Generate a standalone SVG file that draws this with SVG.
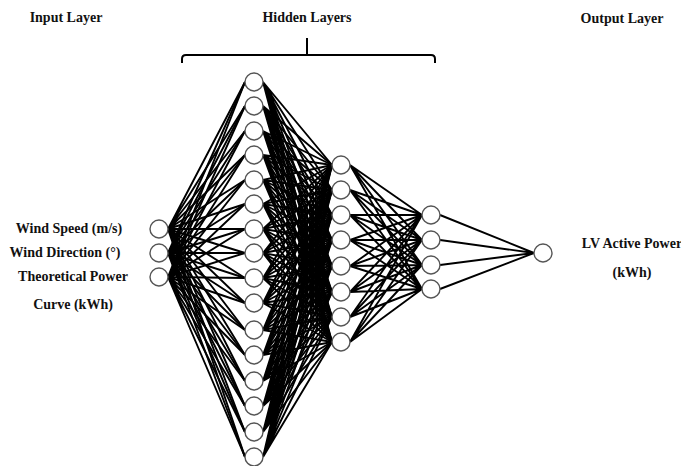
<svg xmlns="http://www.w3.org/2000/svg" width="681" height="466" viewBox="0 0 681 466">
<style>
.t{font-family:"Liberation Serif","Times New Roman",serif;font-weight:bold;font-size:14px;fill:#111;text-anchor:middle}
.n{fill:#fff;stroke:#555;stroke-width:1.4}
.e{fill:none;stroke:#000;stroke-width:1.9}
</style>
<rect width="681" height="466" fill="#fff"/>
<text class="t" x="66" y="22">Input Layer</text>
<text class="t" x="307" y="22">Hidden Layers</text>
<text class="t" x="622" y="23">Output Layer</text>
<path d="M182 63V59Q182 55 186 55H431Q435 55 435 59V63M307 38V55" fill="none" stroke="#000" stroke-width="2"/>
<text class="t" x="69" y="233">Wind Speed (m/s)</text>
<text class="t" x="65" y="257">Wind Direction (°)</text>
<text class="t" x="73" y="281">Theoretical Power</text>
<text class="t" x="73" y="309">Curve (kWh)</text>
<text class="t" x="632" y="248">LV Active Power</text>
<text class="t" x="632" y="277">(kWh)</text>
<g id="connectors" class="e">
<path d="M168 229L245 82M168 229L245 106M168 229L245 131M168 229L245 155M168 229L245 180M168 229L245 204M168 229L245 229M168 229L245 253M168 229L245 278M168 229L245 303M168 229L245 330M168 229L245 355M168 229L245 381M168 229L245 406M168 229L245 432M168 229L245 457"/>
<path d="M168 253L245 82M168 253L245 106M168 253L245 131M168 253L245 155M168 253L245 180M168 253L245 204M168 253L245 229M168 253L245 253M168 253L245 278M168 253L245 303M168 253L245 330M168 253L245 355M168 253L245 381M168 253L245 406M168 253L245 432M168 253L245 457"/>
<path d="M168 277L245 82M168 277L245 106M168 277L245 131M168 277L245 155M168 277L245 180M168 277L245 204M168 277L245 229M168 277L245 253M168 277L245 278M168 277L245 303M168 277L245 330M168 277L245 355M168 277L245 381M168 277L245 406M168 277L245 432M168 277L245 457"/>
<path d="M263 82L332 165M263 82L332 190M263 82L332 215M263 82L332 240M263 82L332 266M263 82L332 292M263 82L332 317M263 82L332 342"/>
<path d="M263 106L332 165M263 106L332 190M263 106L332 215M263 106L332 240M263 106L332 266M263 106L332 292M263 106L332 317M263 106L332 342"/>
<path d="M263 131L332 165M263 131L332 190M263 131L332 215M263 131L332 240M263 131L332 266M263 131L332 292M263 131L332 317M263 131L332 342"/>
<path d="M263 155L332 165M263 155L332 190M263 155L332 215M263 155L332 240M263 155L332 266M263 155L332 292M263 155L332 317M263 155L332 342"/>
<path d="M263 180L332 165M263 180L332 190M263 180L332 215M263 180L332 240M263 180L332 266M263 180L332 292M263 180L332 317M263 180L332 342"/>
<path d="M263 204L332 165M263 204L332 190M263 204L332 215M263 204L332 240M263 204L332 266M263 204L332 292M263 204L332 317M263 204L332 342"/>
<path d="M263 229L332 165M263 229L332 190M263 229L332 215M263 229L332 240M263 229L332 266M263 229L332 292M263 229L332 317M263 229L332 342"/>
<path d="M263 253L332 165M263 253L332 190M263 253L332 215M263 253L332 240M263 253L332 266M263 253L332 292M263 253L332 317M263 253L332 342"/>
<path d="M263 278L332 165M263 278L332 190M263 278L332 215M263 278L332 240M263 278L332 266M263 278L332 292M263 278L332 317M263 278L332 342"/>
<path d="M263 303L332 165M263 303L332 190M263 303L332 215M263 303L332 240M263 303L332 266M263 303L332 292M263 303L332 317M263 303L332 342"/>
<path d="M263 330L332 165M263 330L332 190M263 330L332 215M263 330L332 240M263 330L332 266M263 330L332 292M263 330L332 317M263 330L332 342"/>
<path d="M263 355L332 165M263 355L332 190M263 355L332 215M263 355L332 240M263 355L332 266M263 355L332 292M263 355L332 317M263 355L332 342"/>
<path d="M263 381L332 165M263 381L332 190M263 381L332 215M263 381L332 240M263 381L332 266M263 381L332 292M263 381L332 317M263 381L332 342"/>
<path d="M263 406L332 165M263 406L332 190M263 406L332 215M263 406L332 240M263 406L332 266M263 406L332 292M263 406L332 317M263 406L332 342"/>
<path d="M263 432L332 165M263 432L332 190M263 432L332 215M263 432L332 240M263 432L332 266M263 432L332 292M263 432L332 317M263 432L332 342"/>
<path d="M263 457L332 165M263 457L332 190M263 457L332 215M263 457L332 240M263 457L332 266M263 457L332 292M263 457L332 317M263 457L332 342"/>
<path d="M350 165L422 215M350 165L422 240M350 165L422 265M350 165L422 289M350 190L422 215M350 190L422 240M350 190L422 265M350 190L422 289M350 215L422 215M350 215L422 240M350 215L422 265M350 215L422 289M350 240L422 215M350 240L422 240M350 240L422 265M350 240L422 289M350 266L422 215M350 266L422 240M350 266L422 265M350 266L422 289M350 292L422 215M350 292L422 240M350 292L422 265M350 292L422 289M350 317L422 215M350 317L422 240M350 317L422 265M350 317L422 289M350 342L422 215M350 342L422 240M350 342L422 265M350 342L422 289"/>
<path d="M440 215L534 253M440 240L534 253M440 265L534 253M440 289L534 253"/>
</g>
<g id="input-layer">
<circle id="in1" class="n" cx="159" cy="229" r="9"/>
<circle id="in2" class="n" cx="159" cy="253" r="9"/>
<circle id="in3" class="n" cx="159" cy="277" r="9"/>
</g>
<g id="hidden-layer-1">
<circle id="h1-1" class="n" cx="254" cy="82" r="9"/>
<circle id="h1-2" class="n" cx="254" cy="106" r="9"/>
<circle id="h1-3" class="n" cx="254" cy="131" r="9"/>
<circle id="h1-4" class="n" cx="254" cy="155" r="9"/>
<circle id="h1-5" class="n" cx="254" cy="180" r="9"/>
<circle id="h1-6" class="n" cx="254" cy="204" r="9"/>
<circle id="h1-7" class="n" cx="254" cy="229" r="9"/>
<circle id="h1-8" class="n" cx="254" cy="253" r="9"/>
<circle id="h1-9" class="n" cx="254" cy="278" r="9"/>
<circle id="h1-10" class="n" cx="254" cy="303" r="9"/>
<circle id="h1-11" class="n" cx="254" cy="330" r="9"/>
<circle id="h1-12" class="n" cx="254" cy="355" r="9"/>
<circle id="h1-13" class="n" cx="254" cy="381" r="9"/>
<circle id="h1-14" class="n" cx="254" cy="406" r="9"/>
<circle id="h1-15" class="n" cx="254" cy="432" r="9"/>
<circle id="h1-16" class="n" cx="254" cy="457" r="9"/>
</g>
<g id="hidden-layer-2">
<circle id="h2-1" class="n" cx="341" cy="165" r="9"/>
<circle id="h2-2" class="n" cx="341" cy="190" r="9"/>
<circle id="h2-3" class="n" cx="341" cy="215" r="9"/>
<circle id="h2-4" class="n" cx="341" cy="240" r="9"/>
<circle id="h2-5" class="n" cx="341" cy="266" r="9"/>
<circle id="h2-6" class="n" cx="341" cy="292" r="9"/>
<circle id="h2-7" class="n" cx="341" cy="317" r="9"/>
<circle id="h2-8" class="n" cx="341" cy="342" r="9"/>
</g>
<g id="hidden-layer-3">
<circle id="h3-1" class="n" cx="431" cy="215" r="9"/>
<circle id="h3-2" class="n" cx="431" cy="240" r="9"/>
<circle id="h3-3" class="n" cx="431" cy="265" r="9"/>
<circle id="h3-4" class="n" cx="431" cy="289" r="9"/>
</g>
<g id="output-layer">
<circle id="out1" class="n" cx="543" cy="253" r="9"/>
</g>
</svg>
